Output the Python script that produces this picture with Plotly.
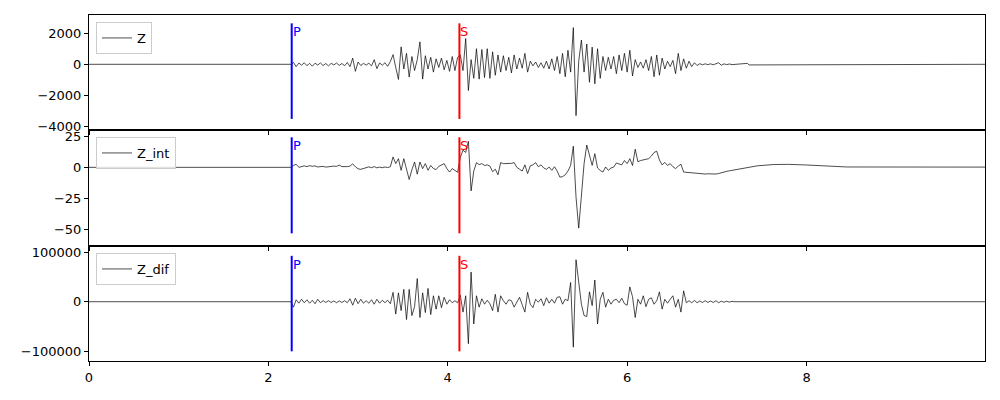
import plotly.graph_objects as go

# ---------------- data ----------------
t_start = 2.25
dt = 0.03
p_time = 2.26
s_time = 4.13

z_vals = [
    0, 120, -150, 80, -60, 100, -90, 60, -120, 70,
    -50, 90, -80, 50, -100, 60, -40, 80, -70, 50,
    -90, 120, -150, 400, -450, 150, -80, 60, -50, 70,
    -100, 300, -280, 90, -60, 100, -130, 180, 620, -200,
    -970, 1120, -300, 700, -820, 500, -400, 300, 1440, -950,
    550, -300, 450, -500, 350, -200, 400, -350, 250, -450,
    500, -400, 450, 600, -400, 1650, -1680, 300, -900, 1000,
    -950, 950, -850, 1000, -900, 800, -700, 600, -500, 550,
    -400, 450, -550, 600, -300, 400, -250, 700, -500, 200,
    -100, 150, -200, 100, -250, 200, -300, 350, -400, 500,
    -600, 700, -800, 900, -500, 2350, -3290, 200, 1550, -500,
    1300, -1150, 1100, -1250, 1000, -900, 500, -400, 450, -300,
    500, -600, 600, -400, 700, -500, 900, -750, 300, -200,
    150, -250, 300, -400, 500, -800, 600, -700, 400, -300,
    200, -150, 250, -600, 700, -400, 350, -250, 200, -150,
    100, -80, 40, -30, 30, -20, 30, -30, 20, 100,
    -60, 30, -20, 20, -20, 0,
]
z_tail_t = [7.34, 7.36, 9.99]
z_tail_v = [60, -40, 0]

zint_vals = [
    0, 1.5, 2.5, 0, 0.8, 1.2, 0.6, 1.4, 0.8, 1.2,
    0.3, 0.5, 0.8, 0.2, 0.5, 0.4, 1.0, 0.8, 1.8, 0.6,
    0.3, 0.6, 1.0, 2.8, 0.5, -1.2, -1.6, -0.8, -0.2, 0.4,
    -0.3, 0.6, -0.4, 0.2, -0.3, 0.3, -0.2, 0.5, 8.4, 3,
    7, -2.4, 7, -1, -9.8, -2, 4.3, -5.5, 4.3, -1,
    3, -2.4, 1.5, -1, -1.8, 0.8, 2, 3, -1, -3.8,
    -1, -2.5, -4, 8, 13.8, 12, 21, -19, -3, 3.8,
    2.2, 3, 1.5, 2, 1, -3.5, -1.5, -6, 3.8, 3,
    3, 3.2, 3.2, 3.8, 0, -1.5, -3, 2, -5, 1.2,
    2, 3.8, 0.5, 2, -0.5, -1.6, 0.2, -2.4, 0.5, -3,
    -7.9, -7.5, -6, -3, 1.5, 17, -24, -49, -20, 3,
    18, 9, 1.6, 11, -0.5, -2.5, -3.8, 0.3, -2.4, -0.5,
    0.2, 3.5, 3, 2, 5.5, 3, 7, 1.5, 14.6, 4.5,
    5.5, 6, 7, 7, 9, 12, 13, 6, 2, 4,
    1.5, 3, 0.5, -1, 1, 2.5, -3.8, -4, -4.3, -4.5,
    -4.8, -4.6, -5.2, -5, -5.4, -5.2, -5.4, -5.2, -5.4, -5,
    -4.2, -3.5, -3.2, -2.8, -2.4, -2.0,
]
zint_tail_t = [7.30, 7.45, 7.64, 7.80, 8.00, 8.20, 8.45, 9.99]
zint_tail_v = [-0.5, 1.2, 2.3, 2.4, 1.9, 1.1, 0.3, 0.2]

zdif_vals = [
    0, -11000, 4000, -3000, 5000, -2000, 4000, -3000, 3000, -4000,
    5000, -2000, 2000, -1500, 2000, -1500, 1500, -2000, 1500, -1500,
    2000, -2000, 6000, -7000, 7000, -4000, 5000, -3000, 2000, -3000,
    4000, -5000, 5000, -3000, 3000, -2000, 3000, -4000, 19000, -25000,
    18000, -18000, 25000, -36000, 25000, -28000, -10000, 47000, -32000, 18000,
    -22000, 27000, -26000, 12000, -15000, 12000, -12000, 9000, -5000, 4000,
    -2000, 2000, -2000, 13000, -21000, 12000, -85000, 60000, -45000, 12000,
    -11000, 6000, -5000, 3000, -4000, -18000, 15000, -21000, 12000, 2000,
    -5000, 4000, 2000, -11000, -1000, 9000, -6000, -21000, 19000, -5000,
    -12000, 5000, -1000, 6000, -8000, 8000, -3000, 5000, -3000, 9000,
    10000, -5000, 5000, 2000, 39000, -92000, 85000, 40000, -5000, -28000,
    -30000, 20000, -8000, 44000, -45000, 5000, 19000, -11000, 5000, -5000,
    3000, 5000, -2000, 7000, -4000, -7000, 30000, 10000, -32000, 5000,
    -5000, 12000, -10000, 5000, 8000, -5000, 2000, 20000, -15000, 5000,
    -3000, 5000, 12000, -11000, 5000, -21000, 22000, -2000, 2000, -2000,
    2500, -2000, 1500, -1500, 2000, -1500, 1500, -1500, 2000, -2000,
    1000, -1000, 1000, -800, 800, 0,
]
zdif_tail_t = [9.99]
zdif_tail_v = [0]

names = ["Z", "Z_int", "Z_dif"]
vline_lo = [-3500, -53.2, -100400]
vline_hi = [2625, 24.2, 92900]
y_ranges = [[-4210, 3160], [-63.4, 30.1], [-120000, 112800]]
y_tickvals = [[-4000, -2000, 0, 2000], [-50, -25, 0, 25], [-100000, 0, 100000]]
y_ticktext = [["\u22124000", "\u22122000", "0", "2000"],
              ["\u221250", "\u221225", "0", "25"],
              ["\u2212100000", "0", "100000"]]
x_tickvals = [0, 2, 4, 6, 8]
x_ticktext = ["0", "2", "4", "6", "8"]

# ---------------- figure ----------------
t_grid = [round(t_start + dt * i, 2) for i in range(len(z_vals))]
series = [
    ([0.0] + t_grid + z_tail_t, [0] + z_vals + z_tail_v),
    ([0.0] + t_grid + zint_tail_t, [0] + zint_vals + zint_tail_v),
    ([0.0] + t_grid + zdif_tail_t, [0] + zdif_vals + zdif_tail_v),
]

FONT = "DejaVu Sans"
y_domains = [[0.675, 0.9625], [0.385, 0.675], [0.0975, 0.385]]
legend_y = [1 - 22 / 400, 1 - 137 / 400, 1 - 253 / 400]

fig = go.Figure()
layout = dict(
    width=1000, height=400, autosize=False,
    margin=dict(l=0, r=0, t=0, b=0),
    paper_bgcolor="white", plot_bgcolor="white",
    font=dict(family=FONT, size=13, color="black"),
    annotations=[],
)

for k in range(3):
    sfx = "" if k == 0 else str(k + 1)
    xa, ya = "x" + sfx, "y" + sfx
    leg = "legend" + sfx
    tx, vy = series[k]
    fig.add_trace(go.Scatter(
        x=tx, y=vy, mode="lines", name=names[k],
        line=dict(color="black", width=0.7),
        xaxis=xa, yaxis=ya, legend=leg, showlegend=True,
    ))
    fig.add_trace(go.Scatter(
        x=[p_time, p_time], y=[vline_lo[k], vline_hi[k]], mode="lines",
        line=dict(color="blue", width=2), xaxis=xa, yaxis=ya, showlegend=False,
    ))
    fig.add_trace(go.Scatter(
        x=[s_time, s_time], y=[vline_lo[k], vline_hi[k]], mode="lines",
        line=dict(color="red", width=2), xaxis=xa, yaxis=ya, showlegend=False,
    ))
    for lab, tt, col in (("P", p_time, "blue"), ("S", s_time, "red")):
        layout["annotations"].append(dict(
            x=tt, y=vline_hi[k], xref=xa, yref=ya, text=lab, showarrow=False,
            xanchor="left", yanchor="top", xshift=-1, yshift=1,
            font=dict(family=FONT, size=13, color=col),
        ))
    layout["xaxis" + sfx] = dict(
        domain=[0.089, 0.985], range=[0, 9.99], anchor=ya,
        showline=True, mirror=True, linecolor="black", linewidth=1,
        ticks="outside", ticklen=4, tickwidth=1, tickcolor="black",
        tickvals=x_tickvals, ticktext=x_ticktext,
        showticklabels=(k == 2), showgrid=False, zeroline=False,
        automargin=False, tickfont=dict(family=FONT, size=13, color="black"),
    )
    layout["yaxis" + sfx] = dict(
        domain=y_domains[k], range=y_ranges[k], anchor=xa,
        showline=True, mirror=True, linecolor="black", linewidth=1,
        ticks="outside", ticklen=4, tickwidth=1, tickcolor="black",
        tickvals=y_tickvals[k], ticktext=y_ticktext[k],
        showgrid=False, zeroline=False, automargin=False,
        tickfont=dict(family=FONT, size=13, color="black"),
    )
    layout[leg] = dict(
        x=0.096, y=legend_y[k], xanchor="left", yanchor="top",
        bgcolor="rgba(255,255,255,0.8)", bordercolor="#cccccc", borderwidth=1,
        font=dict(family=FONT, size=13, color="black"), itemwidth=30,
    )

fig.update_layout(**layout)
fig.write_html(
    "out.html",
    config={"displayModeBar": False},
    post_script="document.body.style.margin='0';document.body.style.padding='0';",
)
